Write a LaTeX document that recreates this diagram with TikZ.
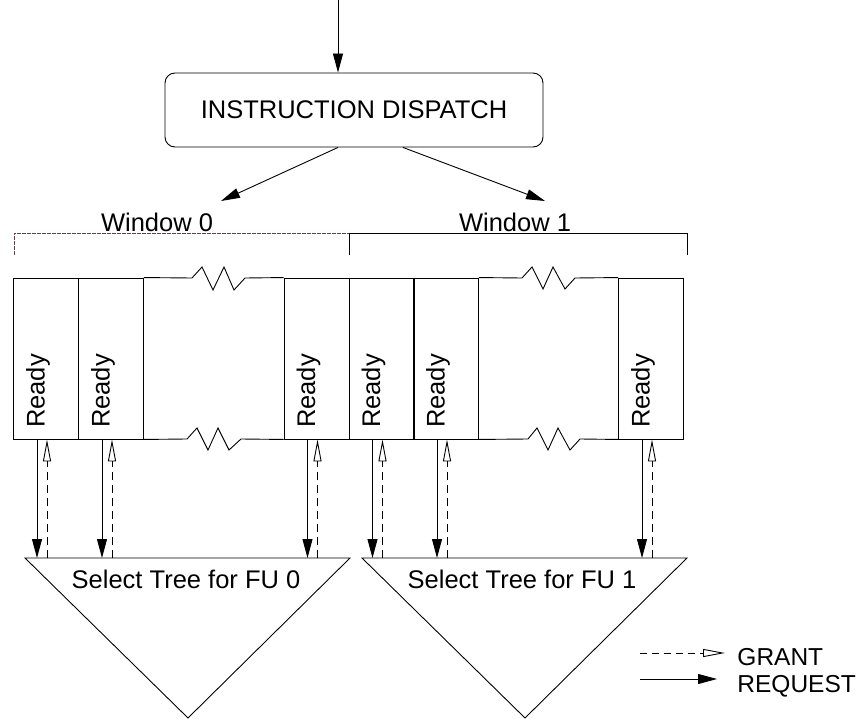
\documentclass[tikz,border=0pt]{standalone}
\usepackage{fontspec}
\setmainfont{Liberation Sans}
\usetikzlibrary{arrows.meta}
\definecolor{brkred}{RGB}{95,65,65}
\tikzset{
  req/.style={-{Triangle[length=19pt,width=10pt]}},
  grant/.style={dash pattern=on 8pt off 5pt,-{Triangle[open,length=22pt,width=8pt]}},
  cell/.style={draw,minimum width=65pt,minimum height=161pt,inner sep=0pt},
  ready/.style={rotate=90,inner sep=0pt},
  legtext/.style={anchor=base west,inner sep=0pt,font=\fontsize{24.5}{29}\selectfont}
}
\begin{document}
\begin{tikzpicture}[x=1pt,y=-1pt,line width=0.9pt,font=\fontsize{25.5}{30}\selectfont]
      \useasboundingbox (0,0) rectangle (864,719);

      % dispatch
      \node[draw,rounded corners=10pt,minimum width=378pt,minimum height=74pt] (dispatch) at (354,110) {INSTRUCTION DISPATCH};
      \coordinate (in) at (338,0);
      \draw[req] (in) -- (in |- dispatch.north);
      \coordinate (w0in) at (221,201);
      \coordinate (w1in) at (545,201);
      \draw[req] ([xshift=-16pt]dispatch.south) -- (w0in);
      \draw[req] ([xshift=49pt]dispatch.south) -- (w1in);

      % windows
      \coordinate (b0) at (14,233);
      \coordinate (b1) at (349,233);
      \coordinate (b2) at (687,233);
      \draw[brkred,line width=0.8pt,dash pattern=on 4pt off 1pt] ([yshift=-22pt]b0) -- (b0) -- (b1);
      \draw (b1) -- (b2) -- ([yshift=-22pt]b2);
      \draw (b1) -- ([yshift=-22pt]b1);
      \node[anchor=base] (win0) at (157,232) {Window 0};
      \node[anchor=base] (win1) at (515,232) {Window 1};

      \node[cell] (c0a) at (46,358.5) {};
      \node[cell] (c0b) at (111,358.5) {};
      \node[cell] (c0c) at (316.5,358.5) {};
      \node[cell] (c1a) at (381.5,358.5) {};
      \node[cell] (c1b) at (446,358.5) {};
      \node[cell] (c1c) at (651,358.5) {};
      \foreach \c in {c0a,c0b,c0c,c1a,c1b,c1c}
        \node[ready] at ([xshift=-8pt,yshift=-32.5pt]\c.center) {Ready};

      \draw (c0b.north east) -- (192,278) -- ++(10,-11) -- ++(11,23) -- ++(11,-23) -- ++(10,23) -- ++(11,-12) -- (c0c.north west);
      \draw (c0b.south east) -- (187,439) -- ++(10,-11) -- ++(11,22) -- ++(10,-22) -- ++(11,22) -- ++(12,-11) -- (c0c.south west);
      \draw (c1b.north east) -- (522,278) -- ++(10,-11) -- ++(11,22) -- ++(10,-22) -- ++(12,22) -- ++(10,-11) -- (c1c.north west);
      \draw (c1b.south east) -- (528,439) -- ++(9,-11) -- ++(11,22) -- ++(10,-22) -- ++(12,22) -- ++(10,-11) -- (c1c.south west);

      % select trees
      \coordinate (t0l) at (25,558);
      \coordinate (t0r) at (350,558);
      \coordinate (t0b) at (188,718);
      \coordinate (t1l) at (362,558);
      \coordinate (t1r) at (687,558);
      \coordinate (t1b) at (525,718);
      \draw (t0l) -- (t0r) -- (t0b) -- cycle;
      \draw (t1l) -- (t1r) -- (t1b) -- cycle;
      \node[anchor=base] (tree0) at (186,588) {Select Tree for FU 0};
      \node[anchor=base] (tree1) at (522,588) {Select Tree for FU 1};

      \foreach \c/\t in {c0a/t0l,c0b/t0l,c0c/t0l,c1a/t1l,c1b/t1l,c1c/t1l} {
        \draw[req] ([xshift=-9pt]\c.south) -- ([xshift=-9pt]\c.south |- \t);
        \draw[grant] ([xshift=1pt]\c.south |- \t) -- ([xshift=1pt]\c.south);
      }

      % legend
      \coordinate (lg0) at (640,653);
      \coordinate (lg1) at (725,653);
      \coordinate (lr0) at (640,679);
      \coordinate (lr1) at (717,679);
      \draw[grant,dash pattern=on 7pt off 5pt] (lg0) -- (lg1);
      \draw[req] (lr0) -- (lr1);
      \node[legtext] (grant) at (737,665) {GRANT};
      \node[legtext] (request) at (737,692) {REQUEST};
    \end{tikzpicture}
\end{document}
